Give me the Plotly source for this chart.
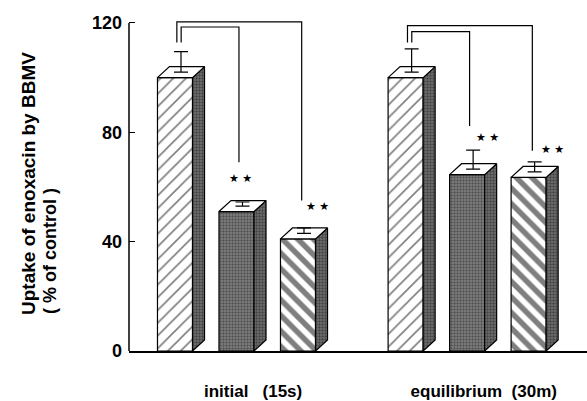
import plotly.graph_objects as go

# ---------------- data ----------------
groups = ["initial\u00a0\u00a0\u00a0(15s)", "equilibrium\u00a0\u00a0(30m)"]
initial_values = [100, 51, 41]
initial_sem = [9.5, 3.5, 4.0]
equilibrium_values = [100, 64.5, 63.5]
equilibrium_sem = [10.5, 9.0, 5.7]
y_ticks = [0, 40, 80, 120]
significance = ["\u2605\u00a0\u2605"]

# ---------------- geometry / style ----------------
GROUP_GAP = 3.75
W = 0.57      # bar front width (x units)
DX = 0.195    # 3D depth in x units
DY = 4.0      # 3D depth in y units
LW = 1.2
X_RANGE = [-0.748, 6.699]
Y_RANGE = [0, 125.45]
FONT = "Arial, Liberation Sans, Helvetica, sans-serif"

values = [initial_values, equilibrium_values]
sems = [initial_sem, equilibrium_sem]

def pos(g, i):
    return g * GROUP_GAP + i

front_styles = [
    dict(color="white", pattern=dict(shape="/", fgcolor="black", bgcolor="white", size=9, solidity=0.18)),
    dict(color="#626262", pattern=dict(shape=".", fgcolor="#202020", bgcolor="#858585", size=3, solidity=0.5)),
    dict(color="white", pattern=dict(shape="\\", fgcolor="black", bgcolor="white", size=11, solidity=0.5)),
]

fig = go.Figure()

# front faces (bars)
for i in range(3):
    fig.add_trace(go.Bar(
        x=[pos(g, i) for g in range(2)],
        y=[values[g][i] for g in range(2)],
        width=W,
        marker=dict(color=front_styles[i]["color"], pattern=front_styles[i]["pattern"],
                    line=dict(color="black", width=LW)),
        showlegend=False, hoverinfo="skip",
    ))

# side and top faces
for g in range(2):
    for i in range(3):
        p = pos(g, i)
        v = values[g][i]
        xl, xr = p - W / 2, p + W / 2
        fig.add_trace(go.Scatter(
            x=[xr, xr, xr + DX, xr + DX, xr], y=[0, v, v + DY, DY, 0],
            mode="lines", fill="toself", fillcolor="#555555",
            fillpattern=dict(shape=".", fgcolor="#141414", bgcolor="#747474", size=3, solidity=0.5),
            line=dict(color="black", width=LW), showlegend=False, hoverinfo="skip",
        ))
        fig.add_trace(go.Scatter(
            x=[xl, xr, xr + DX, xl + DX, xl], y=[v, v, v + DY, v + DY, v],
            mode="lines", fill="toself", fillcolor="white",
            line=dict(color="black", width=LW), showlegend=False, hoverinfo="skip",
        ))

# error bars (from the centre of the top face)
for g in range(2):
    fig.add_trace(go.Scatter(
        x=[pos(g, i) + DX / 2 for i in range(3)],
        y=[values[g][i] + DY / 2 for i in range(3)],
        mode="markers", marker=dict(size=1, color="rgba(0,0,0,0)"),
        error_y=dict(type="data", symmetric=False,
                     array=[sems[g][i] - DY / 2 for i in range(3)],
                     arrayminus=[0, 0, 0], width=7, thickness=LW, color="black"),
        showlegend=False, hoverinfo="skip",
    ))

# comparison brackets
bracket_top = [[118.5, 120.4], [116.8, 119.0]]      # inner, outer
bracket_left_end = 112.8
bracket_right_end = [[69.0, 55.0], [82.3, 73.2]]
left_off = [0.1, 0.03]
right_off = [0.04, 0.06]
for g in range(2):
    for k, j in enumerate([1, 2]):
        x0 = pos(g, 0) + left_off[k]
        x1 = pos(g, j) + right_off[k]
        top = bracket_top[g][k]
        fig.add_trace(go.Scatter(
            x=[x0, x0, x1, x1], y=[bracket_left_end, top, top, bracket_right_end[g][k]],
            mode="lines", line=dict(color="black", width=LW),
            showlegend=False, hoverinfo="skip",
        ))

# significance stars
star_pos = [(pos(0, 1) + 0.06, 63.0), (pos(0, 2) + 0.325, 52.7),
            (pos(1, 1) + 0.33, 78.2), (pos(1, 2) + 0.39, 73.8)]
annotations = []
for sx, sy in star_pos:
    annotations.append(dict(x=sx, y=sy, xref="x", yref="y", text=significance[0],
                            showarrow=False, font=dict(family="DejaVu Sans", size=11, color="black")))

# y-axis title (two lines, aligned at the bottom)
annotations.append(dict(x=(29 - 129) / 458, y=(353 - 185) / 345, xref="paper", yref="paper",
                        xanchor="center", yanchor="middle", textangle=-90, showarrow=False,
                        text="Uptake of enoxacin by BBMV",
                        font=dict(family=FONT, size=19, color="black", weight="bold")))
annotations.append(dict(x=(49.5 - 129) / 458, y=(353 - 253) / 345, xref="paper", yref="paper",
                        xanchor="center", yanchor="middle", textangle=-90, showarrow=False,
                        text="(\u00a0%\u00a0of\u00a0control\u00a0)",
                        font=dict(family=FONT, size=18, color="black", weight="bold")))

fig.update_layout(
    width=587, height=401,
    margin=dict(l=129, r=0, t=8, b=48),
    paper_bgcolor="white", plot_bgcolor="white",
    barmode="overlay",
    annotations=annotations,
    shapes=[dict(type="line", xref="paper", yref="y", x0=0, x1=0, y0=0, y1=120,
                 line=dict(color="black", width=1.5))],
    xaxis=dict(range=X_RANGE, showgrid=False, zeroline=False, showline=True,
               linecolor="black", linewidth=1.5, ticks="",
               tickvals=[pos(g, 1) + 0.27 for g in range(2)], ticktext=groups,
               tickfont=dict(family=FONT, size=17, color="black", weight="bold"),
               ticklabelstandoff=24),
    yaxis=dict(range=Y_RANGE, showgrid=False, zeroline=False, showline=False,
               tickvals=y_ticks, ticktext=[str(t) for t in y_ticks],
               ticks="inside", ticklen=6, tickwidth=1.2, tickcolor="black",
               tickfont=dict(family=FONT, size=18, color="black", weight="bold"),
               ticklabelstandoff=6),
)

fig.write_html("out.html")
